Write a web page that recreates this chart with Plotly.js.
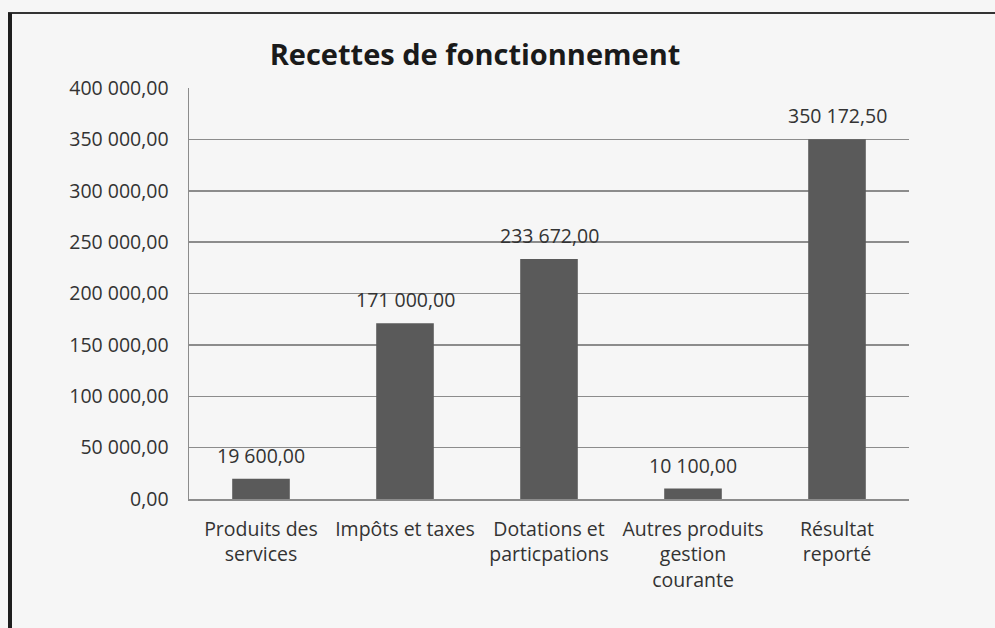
<!DOCTYPE html>
<html>
<head>
<meta charset="utf-8">
<script src="https://cdn.plot.ly/plotly-3.0.1.min.js"></script>
<style>
  html, body { margin: 0; padding: 0; background: #f6f6f6; }
  #chart { width: 995px; height: 628px; }
</style>
</head>
<body>
<div id="chart"></div>
<script>
const categories = [
  "Produits des<br>services",
  "Impôts et taxes",
  "Dotations et<br>particpations",
  "Autres produits<br>gestion<br>courante",
  "Résultat<br>reporté"
];
const values = [19600.00, 171000.00, 233672.00, 10100.00, 350172.50];
const tickValues = [0, 50000, 100000, 150000, 200000, 250000, 300000, 350000, 400000];

const FONT = "Open Sans, sans-serif";
const TXT = "#333333";
const FS = 19.5;

const fmt = v => {
  const parts = v.toFixed(2).split(".");
  const intPart = parts[0].replace(/\B(?=(\d{3})+(?!\d))/g, " ");
  return intPart + "," + parts[1];
};

const trace = {
  type: "bar",
  x: categories,
  y: values,
  marker: { color: "#5a5a5a", line: { width: 0 } },
  width: 0.4,
  hoverinfo: "skip"
};

const annotations = categories.map((c, i) => ({
  x: c,
  y: values[i],
  xref: "x",
  yref: "y",
  text: fmt(values[i]),
  showarrow: false,
  yanchor: "bottom",
  yshift: 8,
  font: { family: FONT, size: FS, color: TXT }
}));

const layout = {
  width: 995,
  height: 628,
  paper_bgcolor: "#f6f6f6",
  plot_bgcolor: "rgba(0,0,0,0)",
  separators: ", ",
  margin: { l: 189, r: 86, t: 88, b: 129 },
  title: {
    text: "<b>Recettes de fonctionnement</b>",
    font: { family: FONT, size: 29, color: "#1a1a1a" },
    x: (475 - 189) / 720, xanchor: "center",
    y: 0.912, yanchor: "middle",
    xref: "paper", yref: "container"
  },
  showlegend: false,
  xaxis: {
    type: "category",
    showline: true,
    linecolor: "#8c8c8c",
    linewidth: 1.5,
    ticks: "",
    showgrid: false,
    tickfont: { family: FONT, size: FS, color: TXT },
    ticklabelstandoff: 12
  },
  yaxis: {
    range: [0, 400000],
    tickvals: tickValues,
    tickformat: ",.2f",
    showline: true,
    linecolor: "#8c8c8c",
    linewidth: 1.5,
    showgrid: true,
    gridcolor: "#8c8c8c",
    gridwidth: 1.5,
    zeroline: false,
    ticks: "",
    ticklabelstandoff: 15,
    tickfont: { family: FONT, size: FS, color: TXT }
  },
  annotations: annotations,
  shapes: [
    { type: "line", xref: "paper", yref: "paper", x0: (8 - 189) / 720, x1: (995 - 189) / 720, y0: (499 - 13) / 411, y1: (499 - 13) / 411, line: { color: "#333333", width: 2 } },
    { type: "line", xref: "paper", yref: "paper", x0: (10 - 189) / 720, x1: (10 - 189) / 720, y0: (499 - 13) / 411, y1: (499 - 640) / 411, line: { color: "#1e1e1e", width: 4 } }
  ]
};

Plotly.newPlot("chart", [trace], layout, { displayModeBar: false, staticPlot: true });
</script>
</body>
</html>
